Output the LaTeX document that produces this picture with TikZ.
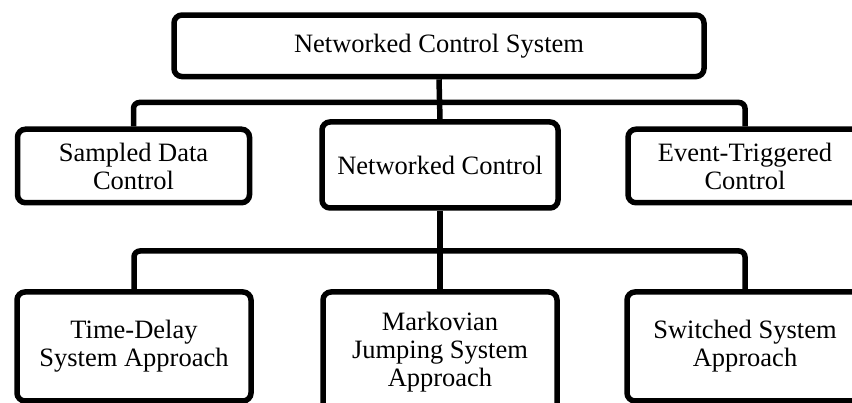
\documentclass[tikz,border=0pt]{standalone}
\usepackage{fontspec}
\setmainfont{Liberation Serif}
\begin{document}
\begin{tikzpicture}[x=1pt,y=-1pt,
  box/.style={draw=black,line width=5.5pt,rounded corners=8pt,fill=white,
    inner sep=0pt,align=center,font=\fontsize{26.5}{28}\selectfont},
  link/.style={draw=black,line width=5.5pt,rounded corners=6pt}]
\clip (0,0) rectangle (852,403);
\fill[white] (0,0) rectangle (852,403);
% connectors (drawn first)
\coordinate (b1) at (440,102.5);
\coordinate (b2) at (440,251);
\node[box,minimum width=530pt,minimum height=61.5pt] (ncs) at (439,45.8) {Networked Control System};
\node[box,minimum width=232pt,minimum height=73.5pt] (sd) at (133.5,166) {Sampled Data\\Control};
\node[box,minimum width=236pt,minimum height=86pt] (nc) at (440,165) {Networked Control};
\node[box,minimum width=234pt,minimum height=73.5pt] (et) at (745,166) {Event-Triggered\\Control};
\node[box,minimum width=234pt,minimum height=109pt] (td) at (134,346.5) {Time-Delay\\System Approach};
\node[box,minimum width=234pt,minimum height=120pt] (mj) at (440,352) {Markovian\\Jumping System\\Approach};
\node[box,minimum width=236pt,minimum height=109pt] (sw) at (745,346.5) {Switched System\\Approach};
\begin{scope}[on background layer/.style={}]
\end{scope}
\draw[link] (ncs.south) -- (nc.north);
\draw[link] (sd.north) |- (b1) -| (et.north);
\draw[link] (nc.south) -- (mj.north);
\draw[link] (td.north) |- (b2) -| (sw.north);
\end{tikzpicture}
\end{document}
